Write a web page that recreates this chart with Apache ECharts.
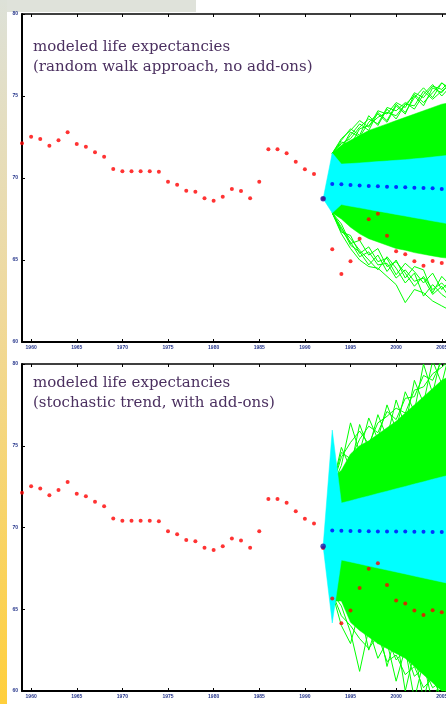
<!DOCTYPE html>
<html>
<head>
<meta charset="utf-8">
<script src="https://cdn.jsdelivr.net/npm/echarts@6/dist/echarts.min.js"></script>
<style>
html, body { margin: 0; padding: 0; background: #fff; overflow: hidden; }
/* the plot runs past the right edge of the picture, so the canvas is wider than the window */
#chart { width: 470px; height: 704px; }
</style>
</head>
<body>
<div id="chart"></div>
<script>
// observed life expectancy (red dots), same in both panels
const obsYears = [1959,1960,1961,1962,1963,1964,1965,1966,1967,1968,1969,1970,1971,1972,1973,1974,1975,1976,1977,1978,
  1979,1980,1981,1982,1983,1984,1985,1986,1987,1988,1989,1990,1991,1992,1993,1994,1995,1996,1997,1998,1999,2000,2001,2002,2003,2004,2005];
const obsLE = [72.12,72.52,72.38,71.97,72.30,72.79,72.07,71.91,71.57,71.30,70.55,70.41,70.41,70.41,70.41,70.38,69.77,69.59,69.23,69.16,
  68.76,68.62,68.86,69.33,69.21,68.76,69.77,71.75,71.75,71.51,70.99,70.53,70.24,68.74,65.65,64.15,64.92,66.30,67.48,67.82,66.48,65.53,65.35,64.92,64.65,64.94,64.82];

// forecast median (blue dots)
const fcYears = [1992,1993,1994,1995,1996,1997,1998,1999,2000,2001,2002,2003,2004,2005];
const medianA = [68.74,69.63,69.62,69.57,69.55,69.51,69.49,69.47,69.45,69.43,69.41,69.39,69.37,69.33];
const medianB = [68.85,69.81,69.80,69.79,69.78,69.77,69.76,69.76,69.75,69.75,69.74,69.74,69.73,69.73];

// cyan band
const bandYears = [1992,1993,1994,1995,1996,1997,1998,1999,2000,2001,2002,2003,2004,2005,2006];
const cyanLowA = [68.74,67.87,68.38,68.28,68.18,68.08,67.98,67.88,67.78,67.68,67.58,67.48,67.38,67.28,67.18];
const cyanHighA = [68.74,71.52,70.85,70.88,70.92,70.96,71.00,71.04,71.08,71.12,71.17,71.22,71.28,71.34,71.40];
const cyanLowB = [68.85,64.16,68.01,67.89,67.77,67.64,67.52,67.40,67.28,67.16,67.03,66.91,66.79,66.67,66.55];
const cyanHighB = [68.85,75.96,71.50,71.64,71.79,71.93,72.08,72.22,72.37,72.51,72.66,72.80,72.95,73.09,73.23];

// dense part of the simulated paths (green)
const simYears = [1993,1994,1995,1996,1997,1998,1999,2000,2001,2002,2003,2004,2005,2006];
const greenLowA = [67.87,67.50,67.00,66.60,66.30,66.10,65.90,65.70,65.60,65.45,65.35,65.25,65.15,65.10];
const greenHighA = [71.52,72.00,72.30,72.60,72.90,73.10,73.30,73.50,73.70,73.90,74.10,74.30,74.50,74.60];
const greenLowB = [65.50,65.50,64.20,63.70,63.30,62.90,62.60,62.30,62.00,61.50,61.00,60.50,60.00,59.60];
const greenHighB = [73.00,73.50,74.50,75.00,75.30,75.70,76.10,76.50,77.00,77.50,78.00,78.50,79.00,79.30];

// outlying simulated paths, panel A (random walk)
const pathsA = [
  [71.5,72.3,73.0,72.6,73.8,73.2,74.2,73.6,74.5,75.0,74.4,75.5,75.2,75.9],
  [71.5,71.9,72.6,73.3,72.9,74.0,73.5,74.5,74.0,74.9,75.5,74.9,75.8,75.4],
  [71.5,72.1,72.4,73.1,73.6,73.3,74.3,74.1,74.6,74.2,75.1,75.7,75.0,75.6],
  [71.5,71.8,72.8,72.5,73.4,73.9,73.4,74.4,73.9,75.1,74.6,75.2,75.8,75.3],
  [71.5,72.2,72.0,73.0,73.2,73.7,74.0,73.8,74.5,74.4,75.3,74.8,75.3,75.7],
  [71.5,72.4,72.9,73.5,73.1,74.1,73.9,74.6,74.3,75.2,74.9,75.6,75.4,76.0],
  [67.87,66.6,65.7,65.0,64.6,64.5,64.0,63.5,62.4,63.2,63.0,62.5,62.2,61.9],
  [67.87,66.9,66.3,65.6,65.0,64.4,65.2,64.5,63.6,64.2,62.8,63.5,62.9,62.5],
  [67.87,67.2,66.0,66.2,65.3,65.7,64.6,64.9,64.2,63.4,64.0,63.2,63.6,63.0],
  [67.87,66.7,66.5,65.4,65.8,64.9,65.1,64.1,64.8,64.3,63.6,64.2,63.2,63.8],
  [67.87,67.0,65.9,65.5,64.7,65.3,64.3,65.0,63.9,64.6,64.4,63.0,64.0,63.4],
  [67.87,66.8,66.1,65.2,65.5,64.7,64.8,63.9,64.4,63.7,63.9,62.9,63.4,62.6]
];
// outlying simulated paths, panel B (stochastic trend)
const pathsB = [
  [72.5,74.9,73.6,76.3,74.8,76.9,75.5,77.8,76.2,79.0,77.6,80.2,78.8,81.0],
  [72.5,73.8,76.4,74.6,76.7,75.4,77.5,76.0,78.3,77.1,80.0,78.2,80.6,79.5],
  [72.5,74.3,75.2,75.9,75.1,76.4,76.8,77.3,77.0,78.4,78.6,79.4,79.8,80.3],
  [72.5,74.6,74.2,75.4,76.2,75.8,77.1,76.6,77.9,78.0,79.3,79.0,80.2,80.0],
  [66.0,64.0,62.9,65.0,62.5,64.2,61.5,63.5,60.0,62.4,59.5,61.6,58.9,60.8],
  [66.0,65.2,63.6,61.2,63.8,62.0,63.0,60.6,62.6,59.5,61.8,59.2,61.0,58.7],
  [66.0,64.6,64.0,63.2,62.6,63.4,61.8,62.2,61.0,61.5,60.2,60.8,59.6,60.0],
  [66.0,65.6,64.5,63.9,64.4,62.9,63.3,61.9,62.5,60.9,61.4,60.2,60.6,59.4]
];

const xTicks = [1960,1965,1970,1975,1980,1985,1990,1995,2000,2005];
const titlesA = ['modeled life expectancies', '(random walk approach, no add-ons)'];
const titlesB = ['modeled life expectancies', '(stochastic trend, with add-ons)'];

const GREEN = '#00ff00';
const CYAN = '#00ffff';

function pairs(xs, ys) {
  return xs.map((x, i) => [x, ys[i]]);
}

// filled band between lo and hi, drawn as one polygon through the axes
function band(xs, lo, hi, color, xi, z) {
  return {
    type: 'custom', xAxisIndex: xi, yAxisIndex: xi / 2, silent: true, z: z,
    data: xs.map((x, i) => [x, lo[i], hi[i]]),
    encode: { x: 0, y: [1, 2] },
    renderItem: function (params, api) {
      if (params.dataIndex !== 0) return null;
      const top = xs.map((x, i) => api.coord([x, hi[i]]));
      const bottom = xs.map((x, i) => api.coord([x, lo[i]])).reverse();
      const cs = params.coordSys;
      const pts = echarts.graphic.clipPointsByRect(top.concat(bottom),
        { x: cs.x, y: cs.y, width: cs.width, height: cs.height });
      return { type: 'polygon', shape: { points: pts },
        style: { fill: color, stroke: color, lineWidth: 0.5 } };
    }
  };
}

function panel(xi, gLo, gHi, paths, cLo, cHi, median) {
  const s = [];
  s.push(band(simYears, gLo, gHi, GREEN, xi, 1));
  paths.forEach((p) => {
    s.push({ type: 'line', xAxisIndex: xi, yAxisIndex: xi / 2,
      data: pairs(simYears, p), symbol: 'none', silent: true, z: 1,
      lineStyle: { width: 1, color: GREEN } });
  });
  s.push(band(bandYears, cLo, cHi, CYAN, xi, 2));
  s.push({ type: 'scatter', xAxisIndex: xi, yAxisIndex: xi / 2, data: pairs(obsYears, obsLE),
    symbolSize: 4, itemStyle: { color: '#ff0000' }, z: 5 });
  // first forecast point (last observation) is drawn a little bigger and darker
  s.push({ type: 'scatter', xAxisIndex: xi, yAxisIndex: xi / 2, data: pairs(fcYears, median),
    symbolSize: (v, p) => (p.dataIndex === 0 ? 5.5 : 4),
    itemStyle: { color: (p) => (p.dataIndex === 0 ? '#1c1ca8' : '#0000ff') }, z: 6 });
  return s;
}

function xAxes(gi) {
  return [
    { type: 'value', gridIndex: gi, min: 1959, max: 2007, position: 'bottom',
      axisLine: { lineStyle: { color: '#000', width: 2 } },
      axisTick: { inside: true, length: 3, customValues: xTicks, lineStyle: { color: '#000' } },
      axisLabel: { customValues: xTicks, fontSize: 5, color: '#24348a', margin: 3, fontWeight: 'bold',
        formatter: (v) => String(v) },
      splitLine: { show: false } },
    { type: 'value', gridIndex: gi, min: 1959, max: 2007, position: 'top',
      axisLine: { lineStyle: { color: '#000', width: 1.5 } },
      axisTick: { inside: true, length: 3, customValues: xTicks, lineStyle: { color: '#000' } },
      axisLabel: { show: false }, splitLine: { show: false } }
  ];
}

function yAxis(gi) {
  return { type: 'value', gridIndex: gi, min: 60, max: 80, interval: 5,
    axisLine: { show: true, lineStyle: { color: '#000', width: 2 } },
    axisTick: { show: true, inside: true, length: 3, lineStyle: { color: '#000' } },
    axisLabel: { fontSize: 5, color: '#24348a', margin: 4, fontWeight: 'bold' },
    splitLine: { show: false } };
}

function title(lines, x, y) {
  return { type: 'text', left: x, top: y, z: 20,
    style: { text: lines.join('\n'), font: '15px "DejaVu Serif"', fill: '#4b3060', lineHeight: 20 } };
}

const chart = echarts.init(document.getElementById('chart'));
chart.setOption({
  animation: false,
  backgroundColor: '#fff',
  grid: [
    { left: 22, top: 14, width: 438, height: 328 },
    { left: 22, top: 364, width: 438, height: 327 }
  ],
  xAxis: [...xAxes(0), ...xAxes(1)],
  yAxis: [yAxis(0), yAxis(1)],
  graphic: [
    { type: 'rect', left: 0, top: 0, z: -10, shape: { width: 196, height: 12 }, style: { fill: '#dfe2da' } },
    { type: 'rect', left: 0, top: 0, z: -10, shape: { width: 7, height: 704 },
      style: { fill: new echarts.graphic.LinearGradient(0, 0, 0, 1, [
        { offset: 0, color: '#dde1d8' }, { offset: 0.45, color: '#f0d99a' }, { offset: 1, color: '#ffcf3c' }]) } },
    title(titlesA, 33, 37),
    title(titlesB, 33, 373)
  ],
  series: [
    ...panel(0, greenLowA, greenHighA, pathsA, cyanLowA, cyanHighA, medianA),
    ...panel(2, greenLowB, greenHighB, pathsB, cyanLowB, cyanHighB, medianB)
  ]
});
</script>
</body>
</html>
